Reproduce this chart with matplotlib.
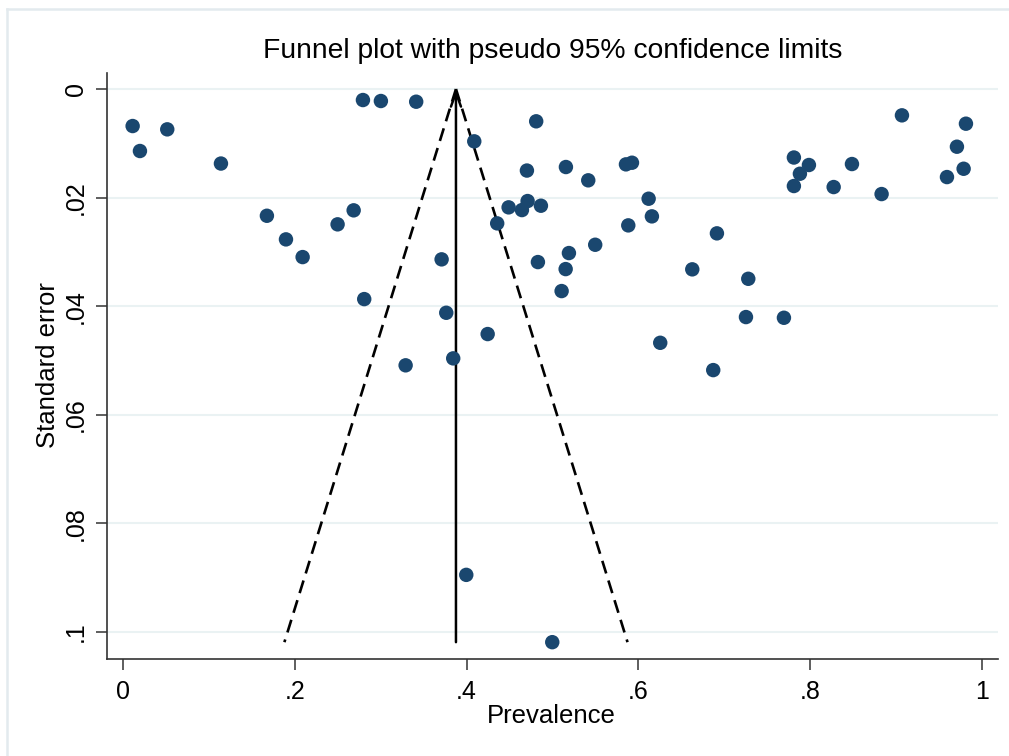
import numpy as np
import matplotlib
matplotlib.use("Agg")
import matplotlib.pyplot as plt
from matplotlib.lines import Line2D

# study estimates
prevalence = [0.0113, 0.0198, 0.0516, 0.1141, 0.1676, 0.1898, 0.2092, 0.2499,
              0.2686, 0.2794, 0.3003, 0.3414, 0.2809, 0.3291, 0.3710, 0.3764,
              0.3845, 0.4090, 0.3997, 0.4246, 0.4357, 0.4490, 0.4645, 0.4711,
              0.4703, 0.4811, 0.4866, 0.4831, 0.4998, 0.5157, 0.5192, 0.5154,
              0.5107, 0.5417, 0.5498, 0.5856, 0.5926, 0.5883, 0.6120, 0.6158,
              0.6255, 0.6628, 0.6915, 0.6872, 0.7280, 0.7253, 0.7695, 0.7811,
              0.7986, 0.7881, 0.7811, 0.8274, 0.8487, 0.8832, 0.9069, 0.9593,
              0.9709, 0.9787, 0.9814]
std_err = [0.00682, 0.01142, 0.00743, 0.01373, 0.02335, 0.02770, 0.03096, 0.02493,
           0.02235, 0.00203, 0.00221, 0.00234, 0.03870, 0.05090, 0.03138, 0.04122,
           0.04962, 0.00964, 0.08950, 0.04514, 0.02475, 0.02180, 0.02230, 0.02064,
           0.01502, 0.00595, 0.02150, 0.03188, 0.10190, 0.01437, 0.03022, 0.03317,
           0.03722, 0.01682, 0.02869, 0.01388, 0.01358, 0.02512, 0.02021, 0.02346,
           0.04675, 0.03322, 0.02659, 0.05178, 0.03496, 0.04201, 0.04214, 0.01262,
           0.01400, 0.01561, 0.01787, 0.01806, 0.01382, 0.01935, 0.00485, 0.01622,
           0.01063, 0.01469, 0.00639]
pooled = 0.3877

xticks = [0, 0.2, 0.4, 0.6, 0.8, 1.0]
xticklabels = ["0", ".2", ".4", ".6", ".8", "1"]
yticks = [0, 0.02, 0.04, 0.06, 0.08, 0.1]
yticklabels = ["0", ".02", ".04", ".06", ".08", ".1"]

plt.rcParams["font.family"] = ["Liberation Sans", "DejaVu Sans"]

fig = plt.figure(figsize=(10.09, 7.56), dpi=100)
ax = fig.add_axes([0.106, 0.1283, 0.883, 0.7755])

# light graph-region outline (top and left edges visible in the reference)
fig.add_artist(Line2D([7 / 1009, 1.0], [1 - 9 / 756] * 2, transform=fig.transFigure,
                      color="#e3eaee", lw=1.8))
fig.add_artist(Line2D([7 / 1009] * 2, [0, 1 - 9 / 756], transform=fig.transFigure,
                      color="#e3eaee", lw=1.8))

se_max = max(std_err)
se_line = np.array([0, se_max])

# pseudo 95% limits
ax.plot(pooled - 1.96 * se_line, se_line, color="black", lw=1.9, dashes=(5, 2.8))
ax.plot(pooled + 1.96 * se_line, se_line, color="black", lw=1.9, dashes=(5, 2.8))

# pooled estimate with arrow head
ax.annotate("", xy=(pooled, 0), xytext=(pooled, se_max),
            arrowprops=dict(arrowstyle="->,head_length=0.5,head_width=0.18",
                            color="black", lw=1.8, mutation_scale=20,
                            shrinkA=0, shrinkB=0))

ax.scatter(prevalence, std_err, s=108, color="#1a476f", edgecolors="none", zorder=3)

ax.set_xlim(-0.0186, 1.0186)
ax.set_ylim(0.1050, -0.0030)

ax.set_yticks(yticks)
ax.set_yticklabels(yticklabels, rotation=90, va="center")
ax.set_xticks(xticks)
ax.set_xticklabels(xticklabels)
ax.tick_params(axis="both", length=8, width=1.1, color="#333333", labelsize=18)
ax.tick_params(axis="x", pad=7)
ax.tick_params(axis="y", pad=6)

ax.grid(axis="y", color="#eaf2f3", lw=1.5)
ax.set_axisbelow(True)
for side in ["top", "right"]:
    ax.spines[side].set_visible(False)
for side in ["left", "bottom"]:
    ax.spines[side].set_color("#333333")
    ax.spines[side].set_linewidth(1.2)

fig.text(0.5475, 1 - 51 / 756, "Funnel plot with pseudo 95% confidence limits",
         ha="center", va="center", fontsize=20.3)
fig.text(0.5465, 1 - 716 / 756, "Prevalence", ha="center", va="center", fontsize=18.5)
fig.text(48 / 1009, 1 - 365 / 756, "Standard error", ha="center", va="center",
         rotation=90, fontsize=18.5)

fig.savefig("out.png", dpi=100, facecolor="white")
